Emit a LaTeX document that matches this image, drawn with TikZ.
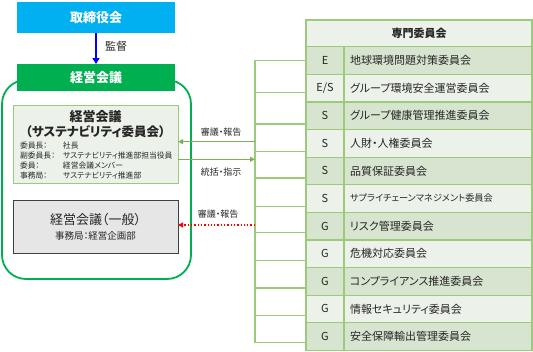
\documentclass[tikz,border=0pt]{standalone}
\usepackage{fontspec}
\setmainfont{Noto Sans CJK JP}[RawFeature=+palt]
\usetikzlibrary{arrows.meta, positioning, calc}
\newcommand\fsz[1]{\fontsize{#1}{#1}\selectfont}

\begin{document}
\begin{tikzpicture}[
    x=1pt, y=-1pt,
    every node/.style={inner sep=0pt, outer sep=0pt},
]

% ---------------------------------------------------------------- colours
\definecolor{boardcol}{HTML}{00B0F0}   % the board
\definecolor{mgmtcol}{HTML}{00B050}    % management meeting, and its outline
\definecolor{lightline}{HTML}{9BCB7A}  % table rules and the bracket
\definecolor{arrowcol}{HTML}{78B454}
\definecolor{rowdark}{HTML}{D7E4D0}
\definecolor{rowlight}{HTML}{ECF2E9}
\definecolor{genfill}{HTML}{E7E6E6}
\definecolor{genline}{HTML}{404040}
\definecolor{textcol}{HTML}{262626}

\tikzset{
    headbox/.style={rectangle, minimum width=158pt, text=white,
                    font=\fsz{13}\bfseries},
    cell/.style={rectangle, draw=lightline, line width=1.2pt, minimum height=27.6pt,
                 text=textcol},
    tagcell/.style={cell, minimum width=38pt, font=\fsz{11}},
    namecell/.style={cell, anchor=west, text width=176pt, inner xsep=6pt,
                     align=left, font=\fsz{11}},
    midlab/.style={font=\fsz{9}, text=textcol},
    link/.style={draw=lightline, line width=1.2pt},
    feedarr/.style={arrowcol, line width=1pt, -{Triangle[length=5pt, width=5pt]}},
    redarr/.style={red, line width=1.3pt, dotted, -{Triangle[length=5pt, width=5pt]}},
}

\useasboundingbox (0,0) rectangle (533,351);

% ----------------------------------------------------------------------
% LEFT: board, management meeting and its two forms
% ----------------------------------------------------------------------
\node[headbox, fill=boardcol, minimum height=31.5pt] (board) at (96,17.25) {取締役会};

\draw[mgmtcol, line width=1.8pt, rounded corners=24pt] (2,80) rectangle (191,279);

\node[headbox, fill=mgmtcol, minimum height=27pt] (mgmt) at (96,77.5) {経営会議};

\draw[blue, line width=2pt, -{Triangle[length=6pt, width=7pt]}] (board) -- (mgmt);
\node[font=\fsz{11}, text=textcol] (supv) at (116,46) {監督};

% sustainability committee
\node[rectangle, draw=lightline, line width=1pt, fill=rowlight,
      minimum width=165pt, minimum height=78pt] (sus) at (95.5,144) {};
\node[font=\fsz{13}\bfseries, text=textcol] (sust1) at (95.5,117) {経営会議};
\node[font=\fsz{12.5}\bfseries, text=textcol] (sust2) at (95.5,132) {（サステナビリティ委員会）};
\node[anchor=north west, font=\fontsize{7.8}{10.3}\selectfont, text=textcol] (members)
    at (20,140.8) {%
    \begin{tabular}{@{}p{43pt}@{}l@{}}
        委員長： & 社長\\
        副委員長： & サステナビリティ推進部担当役員\\
        委員： & 経営会議メンバー\\
        事務局： & サステナビリティ推進部
    \end{tabular}};

% general meeting
\node[rectangle, draw=genline, line width=1pt, fill=genfill, align=center,
      minimum width=165pt, minimum height=53pt, text=textcol] (gen) at (95.5,226.5)
    {{\fsz{13}経営会議（一般）}\\[3pt]{\fsz{9.5}事務局：経営企画部}};

% ----------------------------------------------------------------------
% RIGHT: the specialist committees
% ----------------------------------------------------------------------
\node[cell, fill=rowlight, minimum width=226pt, minimum height=26.7pt,
      font=\fsz{11}\bfseries] (spec) at (419,33.35) {専門委員会};

\foreach \t/\n/\f [count=\i] in {
    E/地球環境問題対策委員会/rowdark,
    {E/S}/グループ環境安全運営委員会/rowlight,
    S/グループ健康管理推進委員会/rowdark,
    S/人財・人権委員会/rowlight,
    S/品質保証委員会/rowdark,
    S/{\fsz{9.2}サプライチェーンマネジメント委員会}/rowlight,
    G/リスク管理委員会/rowdark,
    G/危機対応委員会/rowlight,
    G/コンプライアンス推進委員会/rowdark,
    G/情報セキュリティ委員会/rowlight,
    G/安全保障輸出管理委員会/rowdark}
{
    \node[tagcell, fill=\f] (tag\i) at (325,{46.7+27.6*(\i-0.5)}) {\t};
    \node[namecell, fill=\f] (com\i) at (344,{46.7+27.6*(\i-0.5)}) {\n};
}

% bracket joining the committees
\coordinate (spinetop) at (255,60.7);
\coordinate (spinebot) at (255,342.3);
\draw[link] (tag1.west |- spinetop) -- (spinetop) -- (spinebot) -- (tag11.west |- spinebot);
\foreach \y/\i in {92.3/2, 124/3, 151.7/4, 178/5, 206.7/6, 232.7/7, 260.7/8, 288/9, 315.7/10}
    \draw[link] (spinetop |- 0,\y) -- (tag\i.west |- 0,\y);

% ----------------------------------------------------------------------
% MIDDLE: reporting and direction
% ----------------------------------------------------------------------
\draw[feedarr] (spinetop |- 0,141.7) -- (sus.east |- 0,141.7);
\node[midlab] (rep1) at (221,132) {審議・報告};

\draw[feedarr] (sus.east |- 0,159.3) -- (spinetop |- 0,159.3);
\node[midlab] (dir) at (221,171.7) {統括・指示};

\draw[redarr] (spinetop |- 0,225) -- (gen.east |- 0,225);
\node[midlab] (rep2) at (218,214) {審議・報告};

\end{tikzpicture}
\end{document}
